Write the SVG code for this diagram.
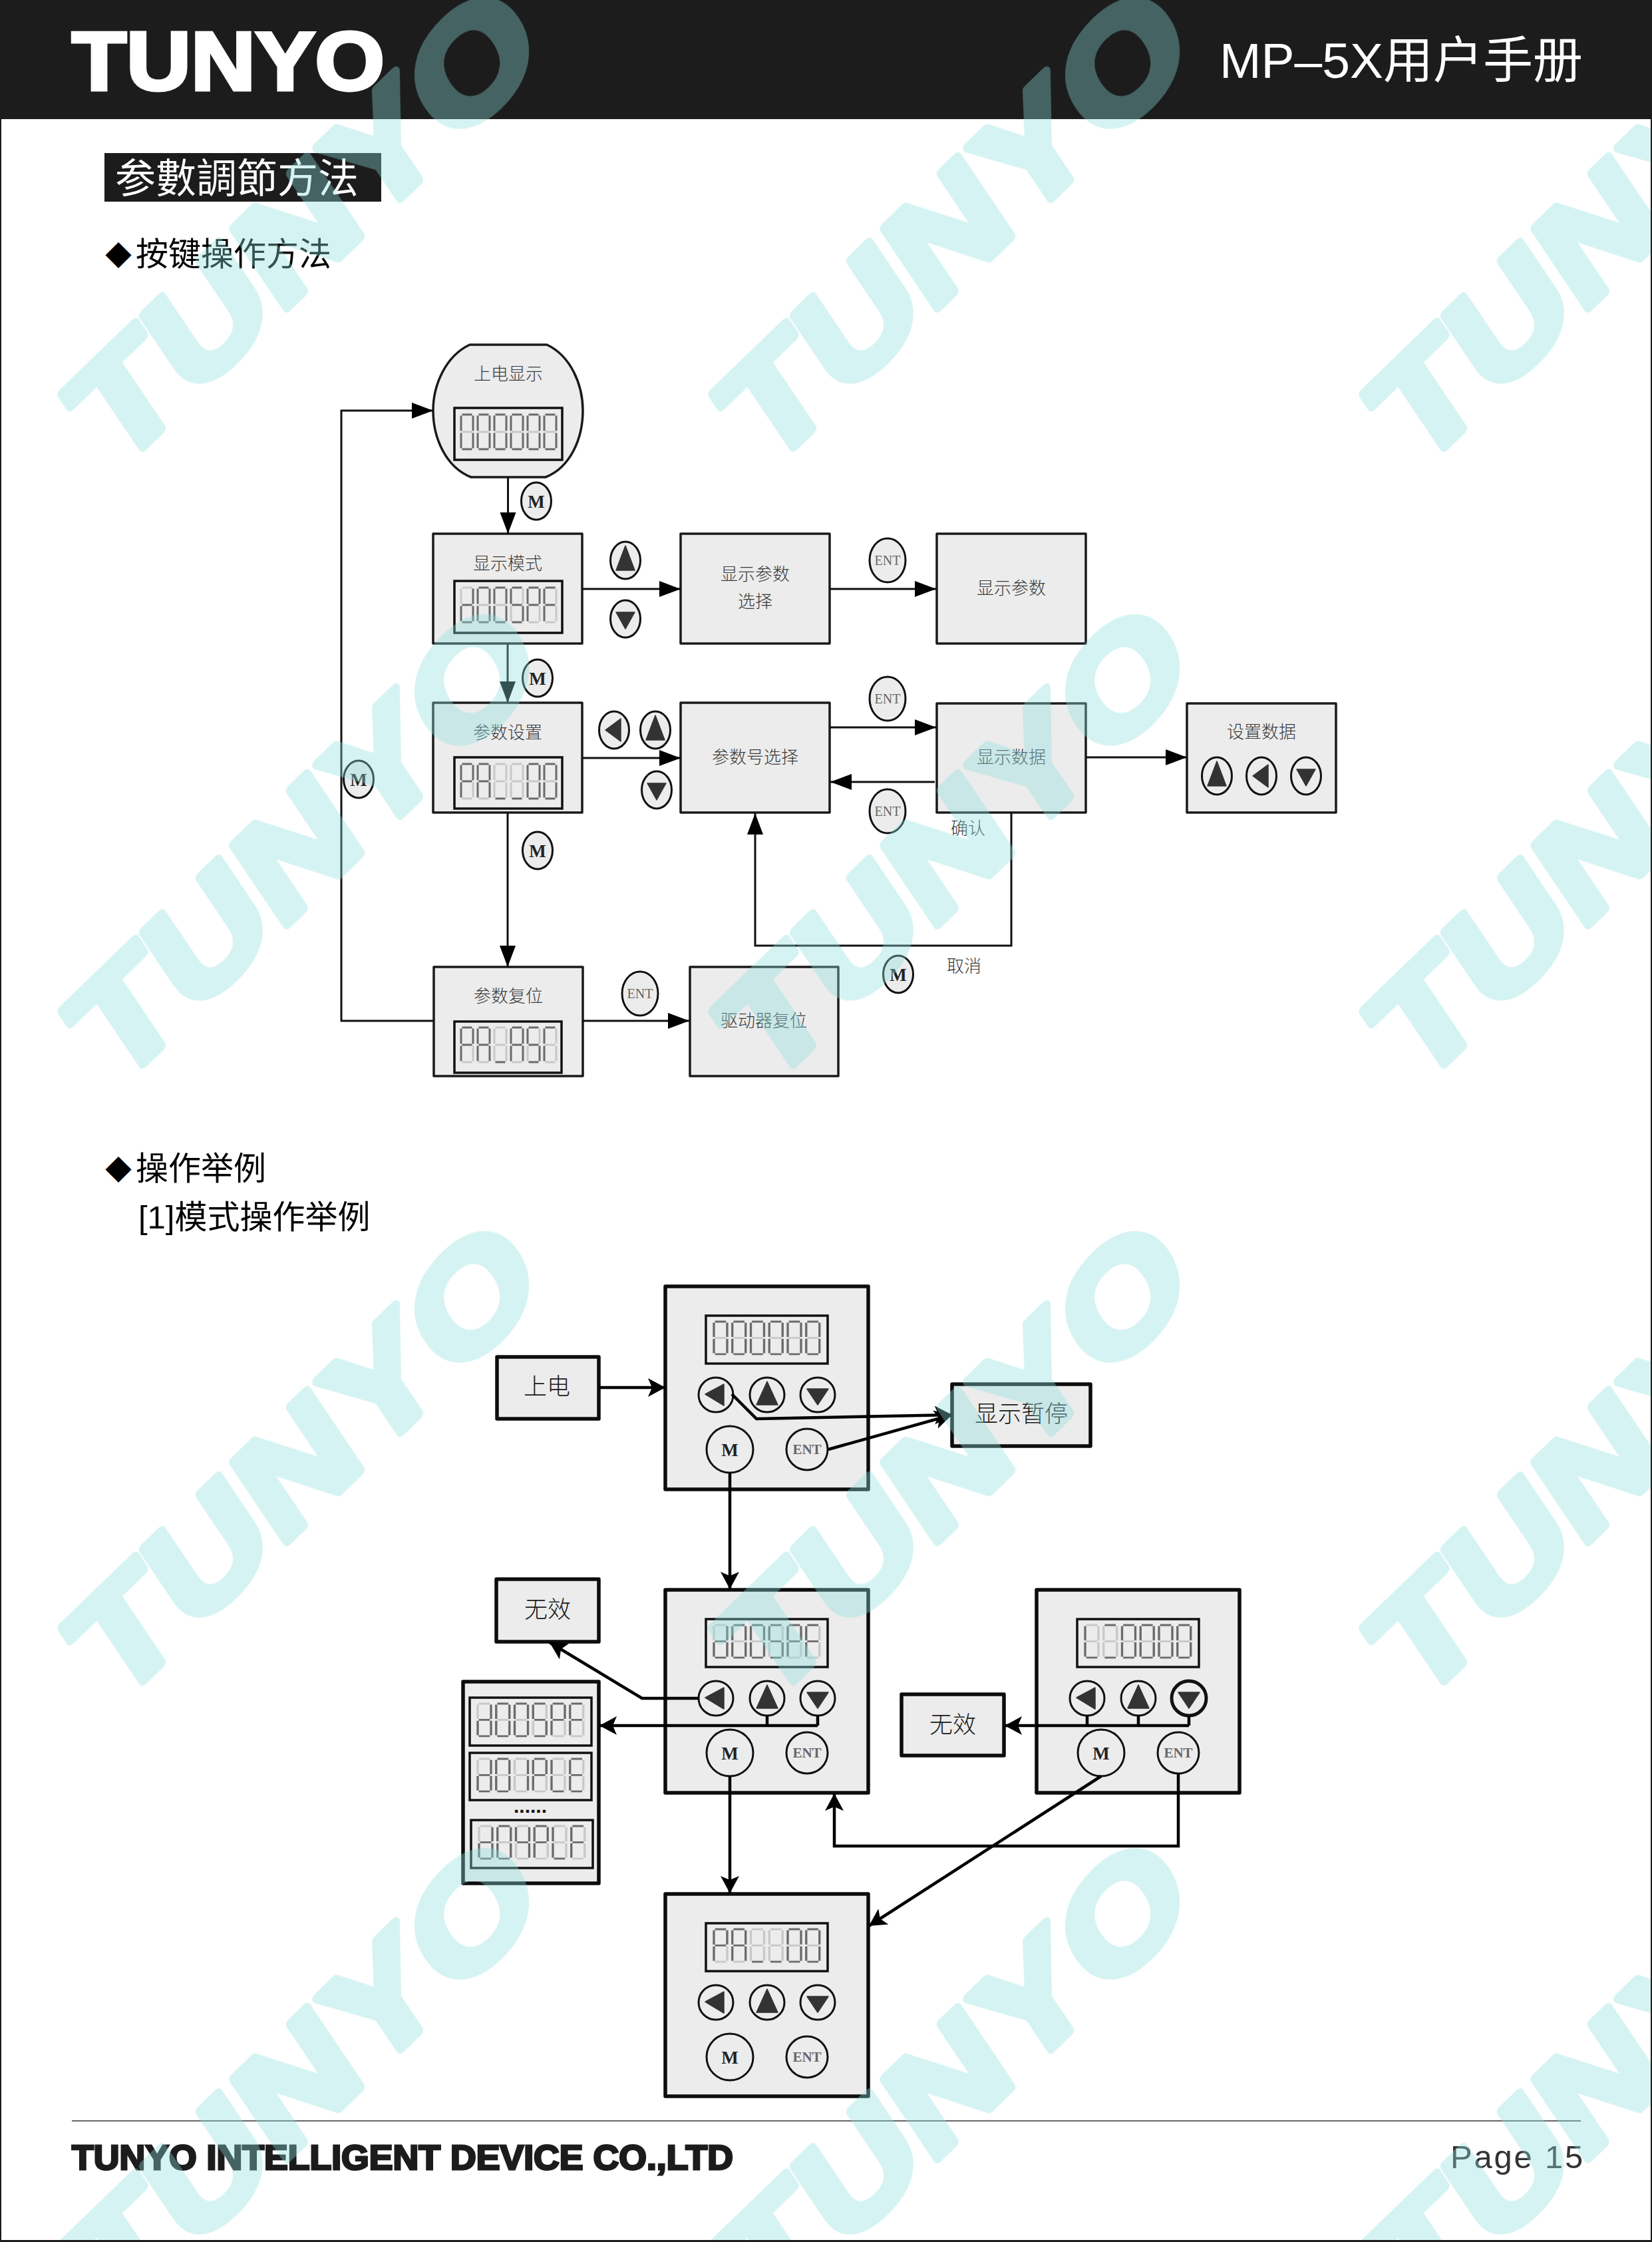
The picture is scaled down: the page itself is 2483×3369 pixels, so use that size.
<svg xmlns="http://www.w3.org/2000/svg" xmlns:xlink="http://www.w3.org/1999/xlink" width="2483" height="3369" viewBox="0 0 2483 3369">
<style>
text{font-family:"Liberation Sans","Noto Sans CJK SC",sans-serif}
.box{fill:#ececec;stroke:#1a1a1a;stroke-width:3.5;stroke-linejoin:round}
.box2{fill:#ececec;stroke:#0d0d0d;stroke-width:5.5;stroke-linejoin:round}
.lcd{fill:#ececec;stroke:#111;stroke-width:3.5}
.t1{font-family:"Noto Sans CJK SC",sans-serif;font-weight:300;font-size:26px;fill:#3a3a3a;text-anchor:middle}
.t2{font-family:"Noto Sans CJK SC",sans-serif;font-weight:300;font-size:35px;fill:#1a1a1a;text-anchor:middle}
.h{font-family:"Noto Sans CJK SC",sans-serif;font-size:49px;fill:#000}
.btn{fill:#ececec;stroke:#111;stroke-width:3}
.tri{fill:#333;stroke:#333;stroke-width:1.5;stroke-linejoin:round}
.mk{font-family:"Liberation Serif",serif;font-weight:700;font-size:27px;fill:#222;text-anchor:middle}
.en{font-family:"Liberation Serif",serif;font-size:20px;fill:#666;text-anchor:middle}
.en2{font-family:"Liberation Serif",serif;font-weight:700;font-size:21px;fill:#666;text-anchor:middle}
.c1{fill:none;stroke:#111;stroke-width:3;marker-end:url(#a1)}
.c2{fill:none;stroke:#000;stroke-width:4.5;marker-end:url(#a2)}
.c3{fill:none;stroke:#000;stroke-width:4.5}
.on{fill:none;stroke:#6a6a6a;stroke-width:3}
.off{fill:none;stroke:#c8c8c8;stroke-width:3}
.wm{font-family:"Liberation Sans",sans-serif;font-weight:700;font-size:207px;fill:rgb(142,222,222);stroke:rgb(142,222,222);stroke-width:13;stroke-linejoin:round}
</style>
<defs>
<marker id="a1" markerUnits="userSpaceOnUse" markerWidth="32" markerHeight="24" refX="32" refY="12" orient="auto"><path d="M0,0L32,12L0,24Z" fill="#000"/></marker>
<marker id="a2" markerUnits="userSpaceOnUse" markerWidth="26" markerHeight="28" refX="26" refY="14" orient="auto"><path d="M0,0L26,14L0,28L6,14Z" fill="#000"/></marker>
<clipPath id="pg"><rect x="0" y="0" width="2481" height="3366"/></clipPath>
<g id="g0"><path class="off" d="M1.5,26H16.5"/><path class="on" d="M1.5,0H16.5M18,1.5V24.5M18,27.5V50.5M1.5,52H16.5M0,27.5V50.5M0,1.5V24.5"/></g>
<g id="gd"><path class="off" d="M1.5,0H16.5M0,1.5V24.5"/><path class="on" d="M18,1.5V24.5M18,27.5V50.5M1.5,52H16.5M0,27.5V50.5M1.5,26H16.5"/></g>
<g id="g5"><path class="off" d="M18,1.5V24.5M0,27.5V50.5"/><path class="on" d="M1.5,0H16.5M0,1.5V24.5M1.5,26H16.5M18,27.5V50.5M1.5,52H16.5"/></g>
<g id="gP"><path class="off" d="M18,27.5V50.5M1.5,52H16.5"/><path class="on" d="M1.5,0H16.5M18,1.5V24.5M0,27.5V50.5M0,1.5V24.5M1.5,26H16.5"/></g>
<g id="gF"><path class="off" d="M18,1.5V24.5M18,27.5V50.5M1.5,52H16.5"/><path class="on" d="M1.5,0H16.5M0,27.5V50.5M0,1.5V24.5M1.5,26H16.5"/></g>
<g id="gA"><path class="off" d="M1.5,52H16.5"/><path class="on" d="M1.5,0H16.5M18,1.5V24.5M18,27.5V50.5M0,27.5V50.5M0,1.5V24.5M1.5,26H16.5"/></g>
<g id="gu"><path class="off" d="M1.5,0H16.5M18,1.5V24.5M18,27.5V50.5M0,27.5V50.5M0,1.5V24.5M1.5,26H16.5"/><path class="on" d="M1.5,52H16.5"/></g>
<g id="g1"><path class="off" d="M1.5,0H16.5M1.5,52H16.5M0,27.5V50.5M0,1.5V24.5M1.5,26H16.5"/><path class="on" d="M18,1.5V24.5M18,27.5V50.5"/></g>
<g id="gL"><path class="off" d="M1.5,0H16.5M18,1.5V24.5M18,27.5V50.5M1.5,26H16.5"/><path class="on" d="M1.5,52H16.5M0,27.5V50.5M0,1.5V24.5"/></g>
<g id="gE"><path class="off" d="M18,1.5V24.5M18,27.5V50.5"/><path class="on" d="M1.5,0H16.5M1.5,52H16.5M0,27.5V50.5M0,1.5V24.5M1.5,26H16.5"/></g>
<g id="g4"><path class="off" d="M1.5,0H16.5M1.5,52H16.5M0,27.5V50.5"/><path class="on" d="M18,1.5V24.5M18,27.5V50.5M0,1.5V24.5M1.5,26H16.5"/></g>
<g id="gC"><path class="off" d="M18,1.5V24.5M18,27.5V50.5M1.5,52H16.5M1.5,26H16.5"/><path class="on" d="M1.5,0H16.5M0,27.5V50.5M0,1.5V24.5"/></g>
<g id="gq"><path class="off" d="M18,1.5V24.5M18,27.5V50.5M0,27.5V50.5M0,1.5V24.5M1.5,26H16.5"/><path class="on" d="M1.5,0H16.5M1.5,52H16.5"/></g>
<g id="s0"><use href="#g0"/><use href="#g0" x="25"/><use href="#g0" x="50"/><use href="#g0" x="75"/><use href="#g0" x="100"/><use href="#g0" x="125"/></g>
<g id="sD"><use href="#gd"/><use href="#g0" x="25"/><use href="#g0" x="50"/><use href="#g5" x="75"/><use href="#gP" x="100"/><use href="#gF" x="125"/></g>
<g id="sA"><use href="#gP"/><use href="#gA" x="25"/><use href="#gu" x="50"/><use href="#gu" x="75"/><use href="#g0" x="100"/><use href="#g0" x="125"/></g>
<g id="sR"><use href="#gP"/><use href="#gA" x="25"/><use href="#gu" x="50"/><use href="#gA" x="75"/><use href="#g5" x="100"/><use href="#gC" x="125"/></g>
<g id="sE"><use href="#gd"/><use href="#g0" x="25"/><use href="#g1" x="50"/><use href="#gP" x="75"/><use href="#gL" x="100"/><use href="#gE" x="125"/></g>
<g id="sH"><use href="#gd"/><use href="#g0" x="25"/><use href="#g4" x="50"/><use href="#gP" x="75"/><use href="#gL" x="100"/><use href="#gF" x="125"/></g>
<g id="sL"><use href="#gL"/><use href="#gq" x="25"/><use href="#g0" x="50"/><use href="#g0" x="75"/><use href="#g0" x="100"/><use href="#g0" x="125"/></g>
<g id="fU"><ellipse class="btn" rx="22.5" ry="28"/><path class="tri" d="M0,-22L14,15H-14Z"/></g>
<g id="fD"><ellipse class="btn" rx="22.5" ry="28"/><path class="tri" d="M-14,-10H14L0,15Z"/></g>
<g id="fL"><ellipse class="btn" rx="22.5" ry="28"/><path class="tri" d="M-13,0L10,-17V17Z"/></g>
<g id="pU"><ellipse class="btn" rx="26" ry="26"/><path class="tri" d="M0,-20L16,15H-16Z"/></g>
<g id="pD"><ellipse class="btn" rx="26" ry="26"/><path class="tri" d="M-16,-9H16L0,15Z"/></g>
<g id="pL"><ellipse class="btn" rx="26" ry="26"/><path class="tri" d="M-16,-1L12,-16V16Z"/></g>
<g id="fM"><ellipse class="btn" rx="22.5" ry="28"/><text class="mk" y="10">M</text></g>
<g id="fE"><ellipse class="btn" rx="27" ry="33"/><text class="en" y="7">ENT</text></g>
<g id="pM"><ellipse class="btn" rx="35" ry="35"/><text class="mk" y="10" font-size="29">M</text></g>
<g id="pE"><ellipse class="btn" rx="31" ry="31"/><text class="en2" y="7">ENT</text></g>
</defs>

<rect width="2483" height="3369" fill="#1c1c1c"/>
<rect x="2" y="179" width="2479" height="3187" fill="#fff"/>

<g id="header">
<text x="108" y="135" font-size="125" font-weight="700" fill="#fff" stroke="#fff" stroke-width="5" textLength="470" lengthAdjust="spacingAndGlyphs">TUNYO</text>
<text x="1833" y="117" font-size="75" fill="#fff" textLength="546" lengthAdjust="spacingAndGlyphs">MP–5X用户手册</text>
</g>
<g id="section-title">
<rect x="157" y="230" width="416" height="73" fill="#1c1c1c"/>
<text x="173" y="290" font-size="61" fill="#fff" style="font-family:'Noto Sans CJK SC',sans-serif">参數調節方法</text>
</g>
<text class="h" y="399"><tspan x="158" font-size="40">◆</tspan><tspan x="204">按键操作方法</tspan></text>
<text class="h" y="1773"><tspan x="158" font-size="40">◆</tspan><tspan x="204">操作举例</tspan></text>
<text class="h" x="208" y="1846" style="font-family:'Liberation Sans','Noto Sans CJK SC',sans-serif">[1]模式操作举例</text>

<g id="n-power">
<path class="box" d="M706,518H822C858,535 876,578 876,617C876,658 858,702 820,717H708C670,702 651,658 651,617C651,578 670,535 706,518Z"/>
<text class="t1" x="764" y="571">上电显示</text>
<rect class="lcd" x="683" y="613" width="162" height="78"/><use href="#s0" x="693" y="623"/>
</g>
<g id="n-mode">
<rect class="box" x="651" y="802" width="224" height="165"/>
<text class="t1" x="763" y="856">显示模式</text>
<rect class="lcd" x="683" y="873" width="162" height="78"/><use href="#sD" x="693" y="883"/>
</g>
<g id="n-dispsel"><rect class="box" x="1023" y="802" width="224" height="165"/><text class="t1" x="1135" y="872">显示参数</text><text class="t1" x="1135" y="913">选择</text></g>
<g id="n-disp"><rect class="box" x="1408" y="802" width="224" height="165"/><text class="t1" x="1520" y="893">显示参数</text></g>
<g id="n-param">
<rect class="box" x="651" y="1056" width="224" height="165"/>
<text class="t1" x="763" y="1110">参数设置</text>
<rect class="lcd" x="683" y="1138" width="162" height="77"/><use href="#sA" x="693" y="1148"/>
</g>
<g id="n-select"><rect class="box" x="1023" y="1056" width="224" height="165"/><text class="t1" x="1135" y="1147">参数号选择</text></g>
<g id="n-data"><rect class="box" x="1408" y="1057" width="224" height="164"/><text class="t1" x="1520" y="1147">显示数据</text></g>
<g id="n-setdata">
<rect class="box" x="1784" y="1057" width="224" height="164"/>
<text class="t1" x="1896" y="1109">设置数据</text>
<use href="#fU" x="1829" y="1166"/><use href="#fL" x="1896" y="1166"/><use href="#fD" x="1963" y="1166"/>
</g>
<g id="n-reset">
<rect class="box" x="652" y="1453" width="224" height="164"/>
<text class="t1" x="764" y="1506">参数复位</text>
<rect class="lcd" x="683" y="1535" width="161" height="77"/><use href="#sR" x="693" y="1544"/>
</g>
<g id="n-drvreset"><rect class="box" x="1037" y="1453" width="223" height="164"/><text class="t1" x="1148" y="1543">驱动器复位</text></g>

<g id="flow1-keys">
<use href="#fM" x="806" y="753"/>
<use href="#fU" x="940" y="842"/><use href="#fD" x="940" y="930"/>
<use href="#fE" x="1334" y="842"/>
<use href="#fM" x="808" y="1019"/>
<use href="#fL" x="923" y="1097"/><use href="#fU" x="985" y="1097"/><use href="#fD" x="987" y="1187"/>
<use href="#fE" x="1334" y="1050"/><use href="#fE" x="1334" y="1219"/>
<use href="#fM" x="539" y="1171"/>
<use href="#fM" x="808" y="1278"/>
<use href="#fE" x="962" y="1493"/>
<use href="#fM" x="1350" y="1464"/>
<text class="t1" x="1455" y="1254">确认</text>
<text class="t1" x="1449" y="1461">取消</text>
</g>

<g id="n-poweron"><rect class="box2" x="747" y="2039" width="153" height="93"/><text class="t2" x="822" y="2096">上电</text></g>
<g id="n-panel1">
<rect class="box2" x="1000" y="1933" width="305" height="305"/>
<rect class="lcd" x="1061" y="1977" width="183" height="72"/><use href="#s0" transform="translate(1073,1986) scale(1.11,.94)"/>
<use href="#pL" x="1076" y="2096"/><use href="#pU" x="1153" y="2096"/><use href="#pD" x="1229" y="2096"/>
<use href="#pM" x="1097" y="2178"/><use href="#pE" x="1213" y="2178"/>
</g>
<g id="n-pause"><rect class="box2" x="1431" y="2080" width="208" height="93"/><text class="t2" x="1535" y="2137">显示暂停</text></g>
<g id="n-invalid1"><rect class="box2" x="746" y="2373" width="154" height="94"/><text class="t2" x="823" y="2431">无效</text></g>
<g id="n-stack">
<rect class="box2" x="696" y="2527" width="204" height="303"/>
<rect class="lcd" x="706" y="2551" width="183" height="72"/><use href="#sD" transform="translate(718,2560) scale(1.11,.94)"/>
<rect class="lcd" x="706" y="2634" width="183" height="71"/><use href="#sE" transform="translate(718,2643) scale(1.11,.94)"/>
<text x="797" y="2724" font-size="30" font-weight="700" fill="#111" text-anchor="middle">......</text>
<rect class="lcd" x="708" y="2735" width="183" height="72"/><use href="#sH" transform="translate(720,2744) scale(1.11,.94)"/>
</g>
<g id="n-panel2">
<rect class="box2" x="1000" y="2389" width="305" height="305"/>
<rect class="lcd" x="1061" y="2433" width="183" height="72"/><use href="#sD" transform="translate(1073,2442) scale(1.11,.94)"/>
<use href="#pL" x="1076" y="2552"/><use href="#pU" x="1153" y="2552"/><use href="#pD" x="1229" y="2552"/>
<use href="#pM" x="1097" y="2634"/><use href="#pE" x="1213" y="2634"/>
</g>
<g id="n-invalid2"><rect class="box2" x="1355" y="2546" width="154" height="92"/><text class="t2" x="1432" y="2604">无效</text></g>
<g id="n-panel3">
<rect class="box2" x="1558" y="2389" width="305" height="305"/>
<rect class="lcd" x="1619" y="2433" width="183" height="72"/><use href="#sL" transform="translate(1631,2442) scale(1.11,.94)"/>
<use href="#pL" x="1634" y="2552"/><use href="#pU" x="1711" y="2552"/><use href="#pD" x="1787" y="2552"/>
<ellipse cx="1787" cy="2552" rx="26" ry="26" fill="none" stroke="#111" stroke-width="5"/>
<use href="#pM" x="1655" y="2634"/><use href="#pE" x="1771" y="2634"/>
</g>
<g id="n-panel4">
<rect class="box2" x="1000" y="2846" width="305" height="304"/>
<rect class="lcd" x="1061" y="2890" width="183" height="72"/><use href="#sA" transform="translate(1073,2899) scale(1.11,.94)"/>
<use href="#pL" x="1076" y="3009"/><use href="#pU" x="1153" y="3009"/><use href="#pD" x="1229" y="3009"/>
<use href="#pM" x="1097" y="3091"/><use href="#pE" x="1213" y="3091"/>
</g>

<g id="connectors">
<path class="c1" d="M763.5,717V802"/>
<path class="c1" d="M875,885H1023"/>
<path class="c1" d="M1247,885H1407"/>
<path class="c1" d="M763,967V1056"/>
<path class="c1" d="M875,1139H1023"/>
<path class="c1" d="M1247,1093H1407"/>
<path class="c1" d="M1405,1175H1248"/>
<path class="c1" d="M1632,1138H1784"/>
<path class="c1" d="M1520,1221V1421H1135V1222"/>
<path class="c1" d="M763,1221V1453"/>
<path class="c1" d="M876,1534H1036"/>
<path class="c1" d="M651,1534H513V617H651"/>
<path class="c2" d="M900,2085H1000"/>
<path class="c2" d="M1100,2095L1137,2132L1431,2126"/>
<path class="c2" d="M1245,2178L1431,2126"/>
<path class="c2" d="M1097,2213V2388"/>
<path class="c2" d="M1050,2552H965L826,2468"/>
<path class="c3" d="M1153,2578V2593M1229,2578V2593"/>
<path class="c2" d="M1229,2593H901"/>
<path class="c2" d="M1097,2669V2845"/>
<path class="c3" d="M1634,2578V2593M1711,2578V2593M1787,2578V2593"/>
<path class="c2" d="M1787,2593H1510"/>
<path class="c2" d="M1771,2665V2774H1254V2695"/>
<path class="c2" d="M1655,2669L1306,2894"/>
</g>

<g id="footer">
<rect x="108" y="3186" width="2268" height="2" fill="#666"/>
<text x="108" y="3260" font-size="52" font-weight="700" fill="#1c1c1c" stroke="#1c1c1c" stroke-width="3" textLength="994" lengthAdjust="spacingAndGlyphs">TUNYO INTELLIGENT DEVICE CO.,LTD</text>
<text x="2180" y="3258" font-size="49" fill="#333" letter-spacing="2.8">Page 15</text>
</g>

<g id="watermark" clip-path="url(#pg)" opacity=".37">
<text class="wm" transform="translate(172,713) rotate(-44) skewX(-10)" textLength="904" lengthAdjust="spacingAndGlyphs">TUNYO</text>
<text class="wm" transform="translate(1150,713) rotate(-44) skewX(-10)" textLength="904" lengthAdjust="spacingAndGlyphs">TUNYO</text>
<text class="wm" transform="translate(2128,713) rotate(-44) skewX(-10)" textLength="904" lengthAdjust="spacingAndGlyphs">TUNYO</text>
<text class="wm" transform="translate(172,1640) rotate(-44) skewX(-10)" textLength="904" lengthAdjust="spacingAndGlyphs">TUNYO</text>
<text class="wm" transform="translate(1150,1640) rotate(-44) skewX(-10)" textLength="904" lengthAdjust="spacingAndGlyphs">TUNYO</text>
<text class="wm" transform="translate(2128,1640) rotate(-44) skewX(-10)" textLength="904" lengthAdjust="spacingAndGlyphs">TUNYO</text>
<text class="wm" transform="translate(172,2567) rotate(-44) skewX(-10)" textLength="904" lengthAdjust="spacingAndGlyphs">TUNYO</text>
<text class="wm" transform="translate(1150,2567) rotate(-44) skewX(-10)" textLength="904" lengthAdjust="spacingAndGlyphs">TUNYO</text>
<text class="wm" transform="translate(2128,2567) rotate(-44) skewX(-10)" textLength="904" lengthAdjust="spacingAndGlyphs">TUNYO</text>
<text class="wm" transform="translate(172,3494) rotate(-44) skewX(-10)" textLength="904" lengthAdjust="spacingAndGlyphs">TUNYO</text>
<text class="wm" transform="translate(1150,3494) rotate(-44) skewX(-10)" textLength="904" lengthAdjust="spacingAndGlyphs">TUNYO</text>
<text class="wm" transform="translate(2128,3494) rotate(-44) skewX(-10)" textLength="904" lengthAdjust="spacingAndGlyphs">TUNYO</text>
</g>
</svg>
